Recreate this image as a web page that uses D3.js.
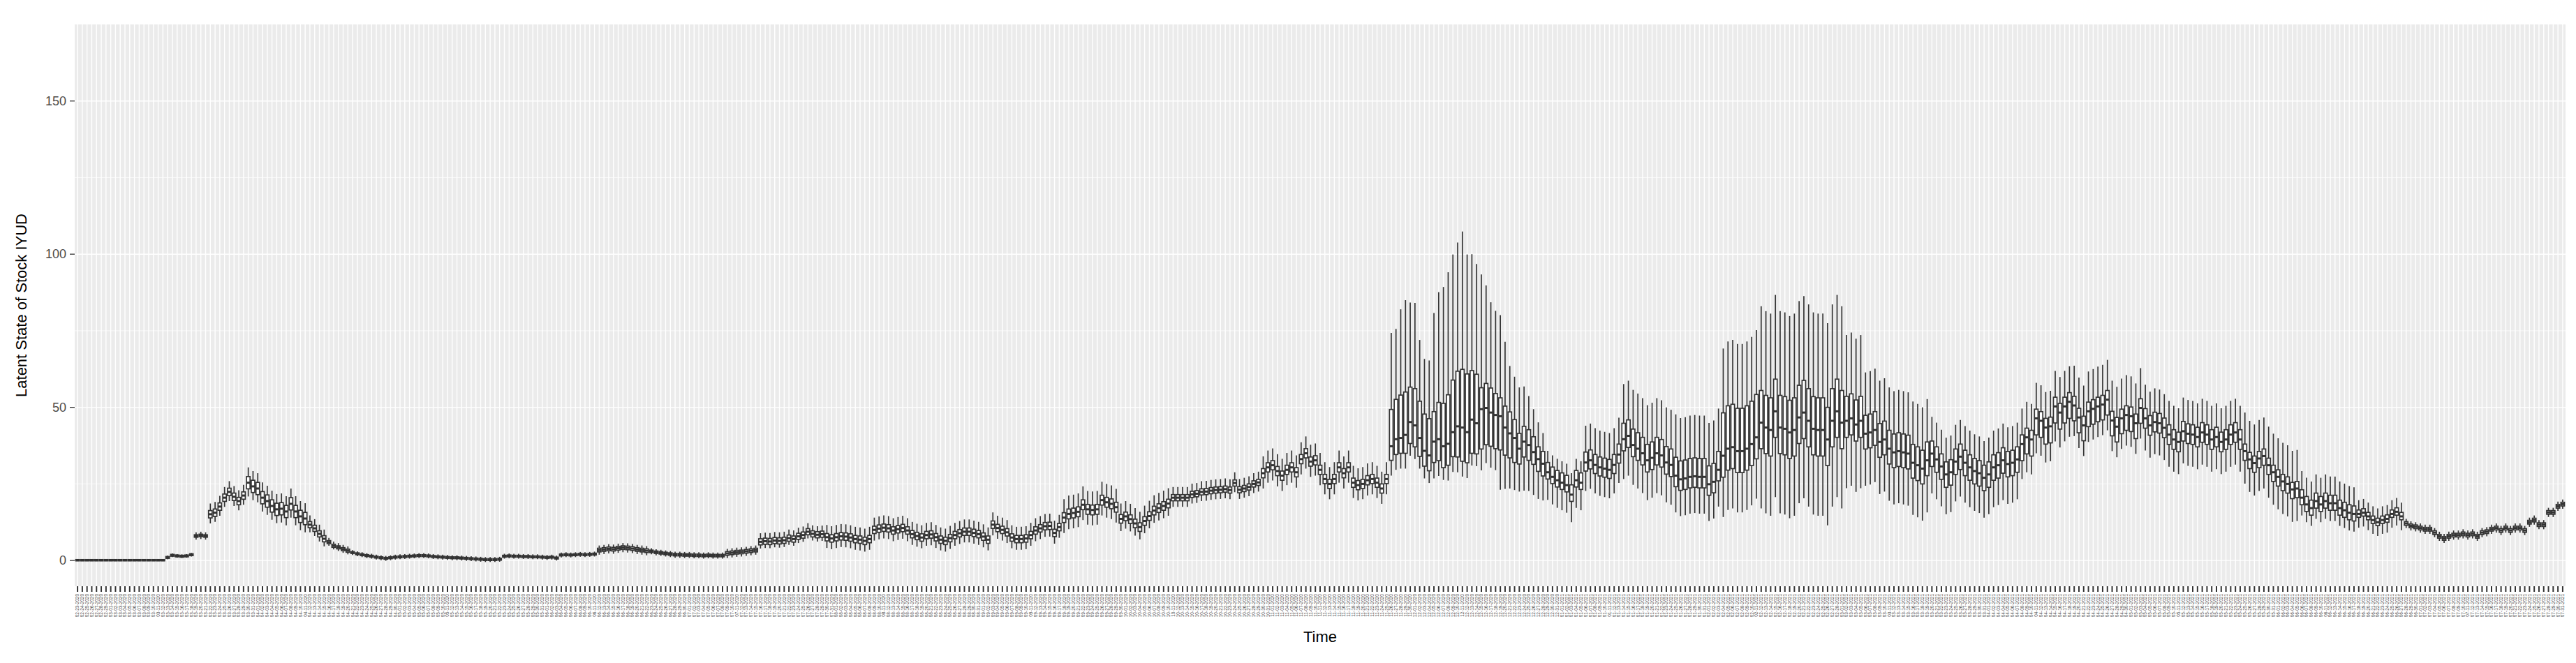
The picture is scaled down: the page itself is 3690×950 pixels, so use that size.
<!DOCTYPE html>
<html><head><meta charset="utf-8">
<script src="https://cdn.jsdelivr.net/npm/d3@7"></script>
<style>body{margin:0;background:#fff}</style>
</head><body>
<svg id="c" width="3690" height="950"></svg>
<script>
// Dates (categories): daily, 2020-02-23 .. 2021-07-31
const startDate = "2020-02-23", endDate = "2021-07-31";
const yTicks = [0, 50, 100, 150];
const yMinor = [25, 75, 125];
// medians per day
const median = [
0.1,0.1,0.1,0.1,0.1,0.1,0.1,0.1,0.1,0.1,0.1,0.1,0.1,0.1,0.1,0.1,0.1,0.1,0.1,
1,1.7,1.5,1.4,1.5,1.9,
8,8.2,8,
15.1,15.6,17.6,20.5,22.4,20.8,19.4,21.2,25.4,24.2,23.5,20.5,19.4,17.8,16.7,16.9,16,18.5,16,14.4,13.7,11.7,10.5,8.7,7.1,6,4.8,4.3,3.7,3.2,
2.6,2.2,1.9,1.6,1.4,1.1,0.9,0.7,0.9,1.1,1.2,1.3,1.4,1.5,1.6,1.6,1.5,1.3,1.2,1.1,1.0,0.9,0.9,0.8,0.7,0.6,0.5,0.4,0.3,0.3,0.3,0.4,
1.4,1.5,1.4,1.4,1.3,1.3,1.2,1.2,1.1,1.0,1.1,0.8,
1.8,1.9,1.8,1.9,2.0,1.9,2.0,2.1,
3.4,3.6,3.8,3.7,4.0,4.2,4.1,3.9,3.6,3.4,3.2,3.0,2.7,2.5,2.3,2.1,1.9,1.9,1.8,1.8,1.7,1.7,1.6,1.7,1.6,1.6,1.6,2.3,2.5,2.7,2.8,3.0,3.2,3.4,
6.1,6.3,6.2,6.5,6.4,6.6,7.3,7.0,7.9,8.3,9.4,8.7,8.4,8.6,7.6,7.2,7.6,7.9,7.8,7.5,7.0,6.8,6.4,7.0,
10,10.4,10.7,10.5,9.8,10.2,10.6,9.8,8.6,8.0,7.5,8.3,8.5,7.6,6.8,6.4,7.3,8.3,8.9,9.4,9.4,9.0,8.6,7.8,6.8,
11.7,10.6,10.0,9.2,7.5,7.0,7.0,7.2,8.3,9.8,10.5,11.2,11.3,9.0,10.9,
14,15.2,15.5,15.9,18.2,16.7,16.5,16.7,19.7,19,18.5,17.4,13.6,14.4,13.5,12.1,10.9,12.9,14.5,16.3,17.1,17.8,18.6,
20.5,20.5,20.5,20.5,21.6,21.8,22.4,22.5,22.8,23,23.1,23.3,23,25.3,23.1,23.5,24,25,25.5,
28.5,30.4,31.1,29.2,27.7,29.6,30.4,28.8,33.1,35,32.3,32.7,29.6,26.6,25,26.6,30.4,28.5,30.4,25.4,24.6,25,26.2,26.6,25.4,23.5,26.6,
37.3,39.6,40,41,45.2,44.1,40,35.8,34.3,38.8,39.6,37.3,38.1,41.9,43.8,43.4,41.9,46,44.8,49.4,49.8,48.3,47.5,47.1,43.4,41.5,40,
36.5,38.8,37.7,35.4,33.1,31.6,28.8,27.3,26.2,25.4,24.6,21.5,26.2,25.4,
32,32.7,31.2,30.4,30,29.6,31.2,34.6,39.6,40.7,37.7,36.5,35,32.7,33.5,35,34.3,32,31.2,
27.7,26.5,26.8,27.3,27.5,27.3,27.3,24.9,25.7,29.6,34.2,36.5,37,35.7,35.7,36.5,38,40.2,
45,43.4,42.6,48.7,43.4,43,41.8,42.6,46.7,48.3,45.6,43,42.6,42.6,39.5,45.6,48.7,45,45.6,46.4,44.4,45.6,
41.4,41.8,42.6,38.7,39.5,36.5,35.3,35.7,35.3,34.9,31.9,31.1,30,32.7,34.9,33,30.7,28.1,28.8,32.3,33.9,31.9,30.4,29.2,28.5,27,28.1,30.4,31.1,32.7,31.5,31.9,33,
38,40.2,39.5,46.4,45.6,43.4,43.8,50.3,48.3,50.3,51.8,50.6,46.7,44.1,48.7,49.5,50.3,50.9,52.5,
45.7,43.7,46.4,47.5,47.1,44.8,49.8,46.4,44.1,45.2,44.8,43.3,41.1,39.5,38.7,42.2,41.4,41.1,40.3,41.8,41.1,39.5,40.3,38.7,39.5,41.1,41.8,39.5,
35.7,33,31.8,33.3,34.1,31.1,28.8,27.3,25.8,25,23.2,23.5,20.5,18.3,17.1,19.4,18.3,19.4,18.7,18.7,17.1,16.4,15.6,15.2,15.2,15.6,14.4,13.2,12.5,13.2,13.6,15.2,15.9,14.4,
12.1,11.3,11,10.6,10.2,10.2,9.1,7.9,7.2,7.9,8.3,8.3,8.7,8.3,8.7,7.9,9.1,9.4,10.2,10.6,9.8,10.6,9.8,10.6,10.6,9.8,12.5,13.2,11.7,11.7,15.7,15.7,17.7,18.4
];
// spread runs: [days, median-q1, q3-median, median-lowerWhisker, upperWhisker-median]
const spreadRuns = [
[19,0.2,0.2,0.3,0.3],[6,0.3,0.3,0.6,0.6],[3,0.4,0.4,1.2,1.2],[8,1.2,1.2,3,3.5],[13,2,2,4.5,5],
[4,1,1,2.5,3],[5,0.5,0.5,1.2,1.4],[52,0.3,0.3,0.8,0.8],[11,0.6,0.6,1.5,1.5],[16,0.4,0.4,1,1],
[7,0.6,0.6,1.5,1.5],[14,1,1,2.2,2.8],[50,1.2,1.2,3.5,4],[12,1.6,1.6,5,6],[11,1.4,1.4,4,5],
[19,1,1,3,3.5],[27,1.5,1.5,5,5.5],
[1,4.6,12,9.6,37],[1,5,13,10,36],[1,5,14,10,42],[1,6,14,11,44],[1,7,11.4,11,39],[1,7,12,11,40],
[1,6,12,10,32],[1,5,12,9,30],[1,5,12,9,31],[1,6.8,9.8,12,42],[1,7,12,12,48],[1,7,14,11,52],
[1,7,16,12,56],[1,8,17,13,58],[1,10,18,15,60],[1,11,19,16,64],[1,10,19,15,58],[1,11,16,15,54],
[1,10,16,14,52],[1,13,7,20,44],[1,12,8,18,40],[1,11,8,18,36],[1,11,7,18,34],[1,11,6,24,33],
[1,9,7,20,28],[1,8,7,18,22],[1,8,6,17,20],
[1,5,5,14,20],[1,5,5,16,18],[1,5,5,15,16],[1,4,5,14,14],[1,4,4,13,12],[1,4,4,12,10],
[8,2.2,3.2,9,7],[8,2.8,3.4,9.3,12],[11,3.8,5.2,13,18],[10,3.6,6,12,20],[8,7,14,20,35],
[18,8.5,10.5,28,38],[4,5.4,8,22,28],[14,5,6,17,20],[19,4.2,4.1,13,12],[11,5.4,3,11.4,11.6],
[15,5,3,10,13],[21,3.2,3.2,10.5,11],[12,3,2.3,10.6,12.6],[12,2.3,2.6,5.8,8.7],[10,1.1,1.3,4.5,4.5],
[34,0.6,0.6,1.5,1.5]
];

const parse = d3.timeParse("%Y-%m-%d"), fmt = d3.timeFormat("%m-%d-%Y");
const days = d3.timeDay.range(parse(startDate), d3.timeDay.offset(parse(endDate), 1)).map(fmt);
const spread = [];
spreadRuns.forEach(r => { for (let k = 0; k < r[0]; k++) spread.push(r.slice(1)); });
const data = days.map((d, i) => {
  const m = median[i], s = spread[i] || [0,0,0,0];
  return {d, med: m, q1: m - s[0], q3: m + s[1], lo: m - s[2], hi: m + s[3]};
}).filter(r => r.med != null);

const L = 107, R = 3675, T = 35, B = 840;
const svg = d3.select("#c");
const x = d3.scalePoint().domain(days).range([L, R]).padding(0.6);
const y = d3.scaleLinear().domain([-8.4, 175]).range([B, T]);
const bw = x.step() * 0.75;

svg.append("rect").attr("x", L).attr("y", T).attr("width", R - L).attr("height", B - T).attr("fill", "#EBEBEB");
const g = svg.append("g");
g.selectAll(".hm").data(yMinor).join("line").attr("x1", L).attr("x2", R)
  .attr("y1", d => y(d)).attr("y2", d => y(d)).attr("stroke", "#fff").attr("stroke-width", 0.7);
g.selectAll(".hM").data(yTicks).join("line").attr("x1", L).attr("x2", R)
  .attr("y1", d => y(d)).attr("y2", d => y(d)).attr("stroke", "#fff").attr("stroke-width", 1.4);
g.append("g").selectAll("line").data(days).join("line").attr("x1", d => x(d)).attr("x2", d => x(d))
  .attr("y1", T).attr("y2", B).attr("stroke", "#fff").attr("stroke-width", 1.4);

const bx = svg.append("g").attr("stroke", "#333333").attr("stroke-width", 1.7);
const grp = bx.selectAll("g").data(data).join("g");
grp.append("line").attr("x1", d => x(d.d)).attr("x2", d => x(d.d)).attr("y1", d => y(d.hi)).attr("y2", d => y(d.q3));
grp.append("line").attr("x1", d => x(d.d)).attr("x2", d => x(d.d)).attr("y1", d => y(d.q1)).attr("y2", d => y(d.lo));
grp.append("rect").attr("x", d => x(d.d) - bw / 2).attr("width", bw)
  .attr("y", d => y(d.q3)).attr("height", d => Math.max(0.5, y(d.q1) - y(d.q3))).attr("fill", "#fff");
grp.append("line").attr("x1", d => x(d.d) - bw / 2).attr("x2", d => x(d.d) + bw / 2)
  .attr("y1", d => y(d.med)).attr("y2", d => y(d.med)).attr("stroke-width", 3);

// y axis
const ya = svg.append("g");
ya.selectAll("line").data(yTicks).join("line").attr("x1", L - 7).attr("x2", L)
  .attr("y1", d => y(d)).attr("y2", d => y(d)).attr("stroke", "#333").attr("stroke-width", 1.3);
ya.selectAll("text").data(yTicks).join("text").attr("x", L - 12).attr("y", d => y(d)).attr("dy", "0.35em")
  .attr("text-anchor", "end").attr("font-family", "Liberation Sans, Arial, sans-serif").attr("font-size", 18)
  .attr("fill", "#4D4D4D").text(d => d);
// x axis
const xa = svg.append("g");
xa.selectAll("line").data(days).join("line").attr("x1", d => x(d)).attr("x2", d => x(d))
  .attr("y1", B).attr("y2", B + 8).attr("stroke", "#333").attr("stroke-width", 2);
xa.selectAll("text").data(days).join("text")
  .attr("transform", d => `translate(${x(d) + 2.4},${B + 11}) rotate(-90)`)
  .attr("text-anchor", "end").attr("font-family", "Liberation Sans, Arial, sans-serif").attr("font-size", 6.5)
  .attr("fill", "#4D4D4D").text(d => d);

svg.append("text").attr("x", (L + R) / 2).attr("y", 920).attr("text-anchor", "middle")
  .attr("font-family", "Liberation Sans, Arial, sans-serif").attr("font-size", 22).text("Time");
svg.append("text").attr("transform", `translate(38,${(T + B) / 2}) rotate(-90)`).attr("text-anchor", "middle")
  .attr("font-family", "Liberation Sans, Arial, sans-serif").attr("font-size", 22).text("Latent State of Stock IYUD");
</script>
</body></html>
